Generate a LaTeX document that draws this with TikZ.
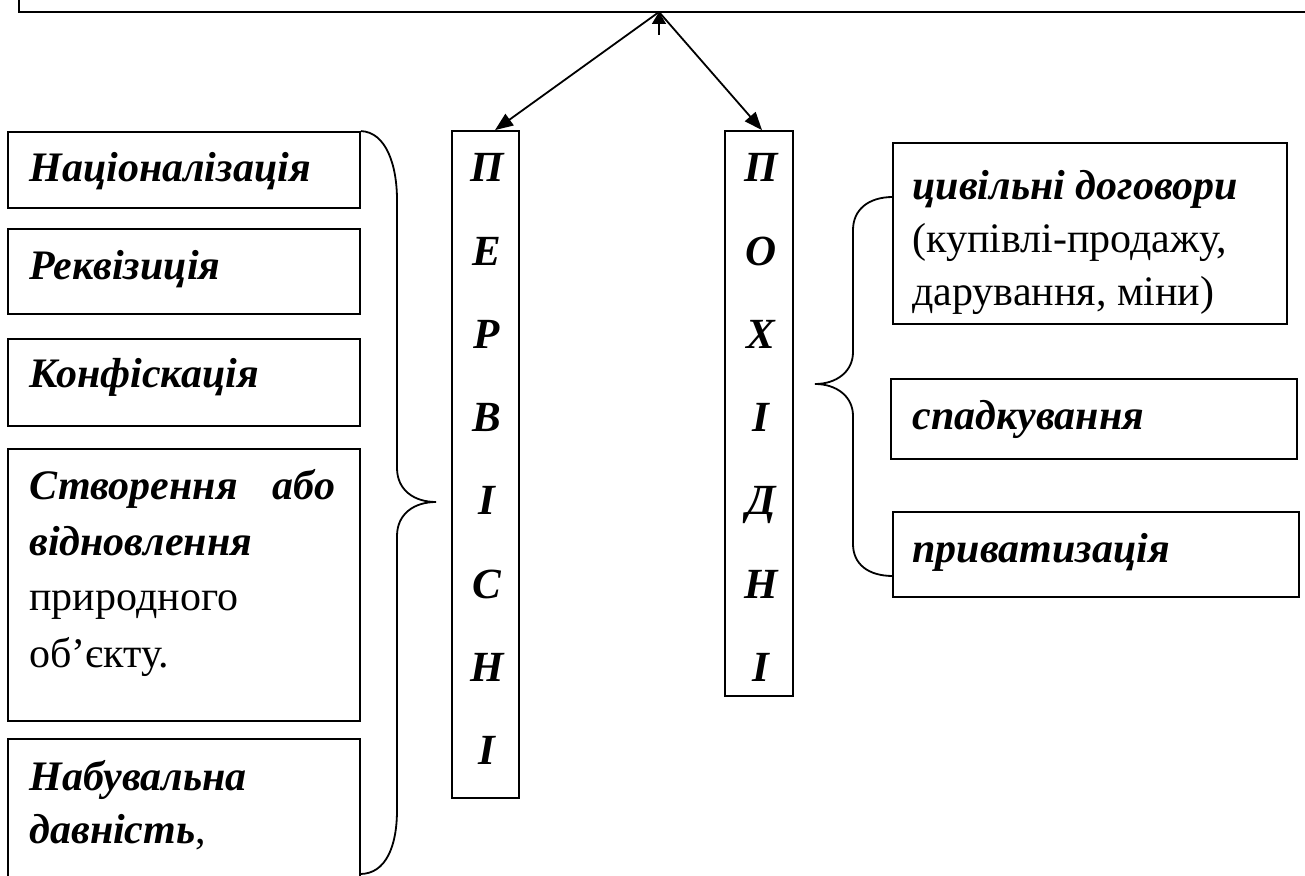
\documentclass[tikz,border=0pt]{standalone}
\usepackage{fontspec}
\setmainfont{Liberation Serif}
\usetikzlibrary{arrows.meta}
\newcommand\myBI[1]{\textbf{\textit{#1}}}
\begin{document}
\begin{tikzpicture}[x=0.5pt,y=-0.5pt,
  box/.style={draw, line width=0.9pt, inner sep=0pt, rectangle},
  lbl/.style={anchor=base west, inner sep=0pt, font=\fontsize{21}{25}\selectfont},
  ltr/.style={anchor=base, inner sep=0pt, font=\fontsize{21.5}{25}\selectfont\bfseries\itshape},
  conn/.style={line width=0.9pt, -{Triangle[length=9pt,width=7pt]}},
  bracepath/.style={line width=0.9pt}]
\useasboundingbox (0,0) rectangle (1305,876);
\clip (0,0) rectangle (1305,876);
\fill[white] (0,0) rectangle (1305,876);
% top box (partly outside the picture)
\node[box, minimum width=660.5pt, minimum height=36pt] (top) at (679.5,-24) {};
% left column boxes
\node[box, minimum width=176pt, minimum height=38pt] (nat) at (184,170) {};
\node[box, minimum width=176pt, minimum height=42.5pt] (rek) at (184,271.5) {};
\node[box, minimum width=176pt, minimum height=43.5pt] (konf) at (184,382.5) {};
\node[box, minimum width=176pt, minimum height=136pt] (stv) at (184,585) {};
\node[box, minimum width=176pt, minimum height=80.5pt] (nab) at (184,819.5) {};
% vertical boxes
\node[box, minimum width=33.5pt, minimum height=333.5pt] (perv) at (485.5,464.5) {};
\node[box, minimum width=34pt, minimum height=282.5pt] (pokh) at (759,413.5) {};
% right column boxes
\node[box, minimum width=197pt, minimum height=90.5pt] (cyv) at (1090,233.5) {};
\node[box, minimum width=203pt, minimum height=40pt] (spad) at (1094,419) {};
\node[box, minimum width=203pt, minimum height=42.5pt] (pryv) at (1096,554.5) {};
% left texts
\node[lbl] (natt) at (29,182) {\myBI{Націоналізація}};
\node[lbl] (rekt) at (29,280) {\myBI{Реквізиція}};
\node[lbl] (konft) at (29,388) {\myBI{Конфіскація}};
\node[lbl] (stvta) at (29,500) {\hbox to 153pt{\myBI{Створення}\hfill\myBI{або}}};
\node[lbl] (stvtb) at (29,555) {\myBI{відновлення}};
\node[lbl] (stvtc) at (29,610) {природного};
\node[lbl] (stvtd) at (29,667) {об’єкту.};
\node[lbl] (nabta) at (29,790) {\myBI{Набувальна}};
\node[lbl] (nabtb) at (29,843) {\myBI{давність},};
% right texts
\node[lbl] (cyvta) at (912,200) {\myBI{цивільні договори}};
\node[lbl] (cyvtb) at (912,253) {(купівлі-продажу,};
\node[lbl] (cyvtc) at (912,306) {дарування, міни)};
\node[lbl] (spadt) at (912,430) {\myBI{спадкування}};
\node[lbl] (pryvt) at (912,562) {\myBI{приватизація}};
% vertical letters
\foreach \l [count=\i from 0] in {П,Е,Р,В,І,С,Н,І}
  \node[ltr] (pv\i) at (487,182+83.2*\i) {\l};
\foreach \l [count=\i from 0] in {П,О,Х,І,Д,Н,І}
  \node[ltr] (ph\i) at (761,182+83.2*\i) {\l};
% connectors
\coordinate (apex) at (659,12);
\draw[conn] (apex) -- ([xshift=4.75pt]perv.north);
\draw[conn] (apex) -- ([xshift=1.5pt]pokh.north);
\draw[line width=0.9pt, -{Triangle[length=6pt,width=7pt]}] ([yshift=-11.5pt]apex) -- (apex);
% left brace
\coordinate (lbend) at (360,874);
\draw[bracepath] (nat.north east) .. controls (386,132) and (397,165) .. (397,200)
  -- (397,468) .. controls (397,490) and (414,502) .. (436,502)
  .. controls (414,502) and (397,514) .. (397,536)
  -- (397,810) .. controls (397,846) and (386,874) .. (lbend);
% right brace
\coordinate (rbtop) at (893,197);
\coordinate (rbend) at (893,576);
\draw[bracepath] (rbtop) .. controls (868,197) and (853,210) .. (853,230)
  -- (853,352) .. controls (853,372) and (836,384) .. (815,384)
  .. controls (836,384) and (853,396) .. (853,416)
  -- (853,544) .. controls (853,564) and (868,576) .. (rbend);
\end{tikzpicture}
\end{document}
